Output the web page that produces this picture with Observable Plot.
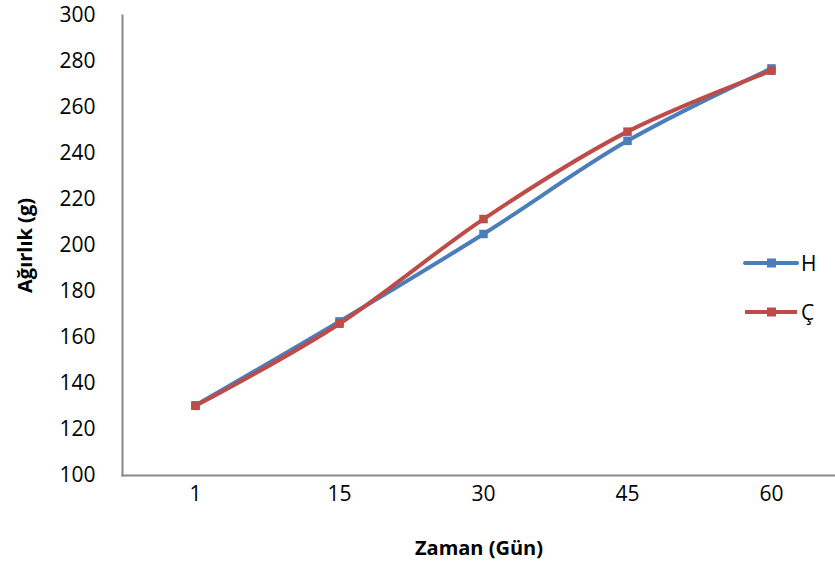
<!DOCTYPE html>
<html>
<head>
<meta charset="utf-8">
<script src="https://cdn.jsdelivr.net/npm/d3@7"></script>
<script src="https://cdn.jsdelivr.net/npm/@observablehq/plot@0.6"></script>
<style>
  html, body { margin: 0; padding: 0; background: #fff; }
  #wrap { position: relative; width: 835px; height: 577px; font-family: "Open Sans", sans-serif; }
  #wrap svg text { fill: #000; }
  g[aria-label="y-axis label"] text, g[aria-label="x-axis label"] text { font-weight: bold; font-size: 20px; }
  #legend { position: absolute; left: 743px; top: 248px; font-size: 21px; }
  #legend .row { display: flex; align-items: center; height: 30px; margin-bottom: 19px; }
  #legend .row span { margin-left: 2px; }
</style>
</head>
<body>
<div id="wrap"></div>
<script>
const days = ["1", "15", "30", "45", "60"];
const seriesNames = ["H", "Ç"];
const valuesH = [130.5, 167, 205, 245.5, 277];
const valuesC = [130.3, 166, 211.5, 249.5, 276];
const yTicks = [100, 120, 140, 160, 180, 200, 220, 240, 260, 280, 300];
const colors = ["#4A7EBB", "#BE4B48"];

const data = [];
days.forEach((d, i) => data.push({day: d, value: valuesH[i], series: seriesNames[0]}));
days.forEach((d, i) => data.push({day: d, value: valuesC[i], series: seriesNames[1]}));

const plot = Plot.plot({
  width: 835,
  height: 577,
  marginLeft: 122,
  marginRight: 0,
  marginTop: 15,
  marginBottom: 102,
  style: {fontFamily: "Open Sans, sans-serif", fontSize: "21px", background: "#fff", overflow: "visible"},
  x: {type: "point", domain: days, range: [193, 772], padding: 0},
  y: {domain: [100, 300]},
  color: {domain: seriesNames, range: colors},
  marks: [
    Plot.frame({anchor: "left", stroke: "#888", strokeWidth: 2}),
    Plot.frame({anchor: "bottom", stroke: "#888", strokeWidth: 2}),
    Plot.axisY({ticks: yTicks, tickSize: 0, tickPadding: 27, label: "Ağırlık (g)", labelAnchor: "center", labelArrow: "none", labelOffset: 105}),
    Plot.axisX({tickSize: 0, tickPadding: 11, label: "Zaman (Gün)", labelAnchor: "center", labelArrow: "none", labelOffset: 79}),
    Plot.line(data, {x: "day", y: "value", z: "series", stroke: "series", strokeWidth: 4, curve: "catmull-rom"}),
    Plot.dot(data, {x: "day", y: "value", fill: "series", symbol: "square", r: 4.8})
  ]
});
document.getElementById("wrap").appendChild(plot);

const legend = document.createElement("div");
legend.id = "legend";
seriesNames.forEach((name, i) => {
  const row = document.createElement("div");
  row.className = "row";
  row.innerHTML = `<svg width="56" height="12"><line x1="2" y1="6" x2="54" y2="6" stroke="${colors[i]}" stroke-width="4" stroke-linecap="${i === 0 ? 'round' : 'butt'}"/><rect x="24" y="1.5" width="9" height="9" fill="${colors[i]}"/></svg><span>${name}</span>`;
  legend.appendChild(row);
});
document.getElementById("wrap").appendChild(legend);
</script>
</body>
</html>
